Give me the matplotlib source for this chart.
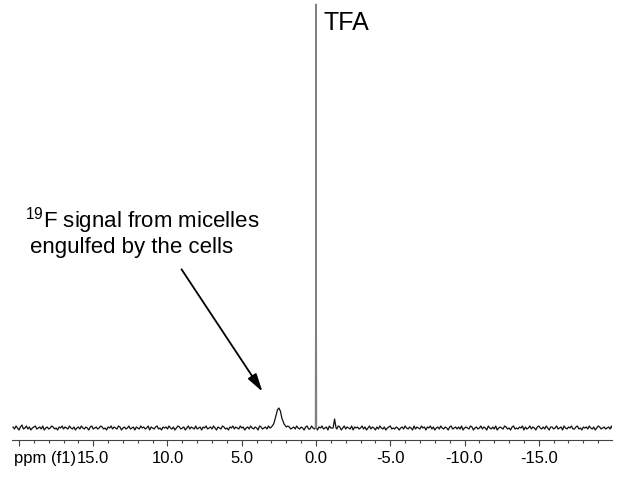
import numpy as np
import matplotlib
matplotlib.use('Agg')
import matplotlib.pyplot as plt
from matplotlib.ticker import MultipleLocator, FixedLocator

plt.rcParams['font.family'] = ['Liberation Sans', 'DejaVu Sans']
plt.rcParams['mathtext.fontset'] = 'custom'
plt.rcParams['mathtext.rm'] = 'Liberation Sans'

# baseline noise, one value every 0.1 ppm starting at 20.4 ppm
noise = [1, -1, 2, 0, -2, 1, 3, -1, 0, 2, -1, 1, -2, 0, 1, 2, -1, 0, 1, -1,
         2, -2, 0, 1, -1, 0, 2, 1, -1, 0, -2, 1, 0, 2, -1, 1, 0, -1, 2, 0,
         -1, 1, -2, 0, 1, -1, 2, 0, -1, 1, 0, -2, 1, 2, -1, 0, 1, -1, 0, 2,
         1, -1, 0, -2, 1, 0, 2, -1, 1, 0, -1, 2, 1, -2, 0, 1, -1, 0, 2, -1,
         0, 1, -2, 1, 0, -1, 2, 0, 1, -1, 0, 2, -2, 1, 0, -1, 1, 2, -1, 0,
         -2, 1, 0, 1, -1, 2, 0, -1, 1, -2, 0, 2, 1, -1, 0, 1, -2, 0, 2, -1,
         1, 0, -1, 2, -1, 0, 1, -2, 1, 0, 2, -1, 0, 1, -1, 2, 0, -2, 1, 0,
         -1, 2, 1, -1, 0, -2, 1, 0, 2, -1, 1, 0, -1, 2, 0, 1, -2, 0, 1, -1,
         2, 0, -1, 1, 0, -2, 2, 1, -1, 0, 1, -1, 2, 0, -2, 1, 0, 1, -1, 2,
         0, -1, 1, -2, 0, 2, 1, -1, 0, 1, -1, 2, 0, -1, 1, 0, -2, 1, 2, -1,
         -1, 2, 0, -1, 1, -2, 1, 0, 2, -1, 0, 1, -2, 2, 0, -1, 1, 0, -1, 2,
         1, -2, 0, 2, -1, 1, 0, -1, 2, -2, 1, 0, 1, -1, 0, 2, -1, 1, -2, 0,
         2, -1, 1, 0, -2, 1, -1, 2, 0, -1, 1, -2, 0, 1, 2, -1, 0, -1, 1, 0,
         -2, 0, 1, -1, 2, 0, -1, 1, 0, -2, 2, -1, 1, 0, -1, 2, 0, 1, -2, 1,
         0, 2, -1, 1, -2, 0, 1, -1, 2, 0, -1, 1, 0, -2, 1, 2, -1, 0, 1, -1,
         1, -1, 2, -2, 0, 1, 0, -1, 2, 1, -2, 0, 1, -1, 0, 2, -1, 1, 0, -2,
         2, 0, -1, 1, -1, 2, -2, 0, 1, 0, -1, 2, 1, -1, 0, -2, 1, 2, -1, 0,
         -1, 1, 0, 2, -2, 1, -1, 0, 2, -1, 1, 0, -2, 1, 2, 0, -1, 1, -1, 2,
         0, -2, 1, 1, -1, 0, 2, -1, 0, 1, -2, 2, 0, -1, 1, 0, 2, -1, -1, 1,
         2, -1, 0, -2, 1, 0, 1, -1, 2, 0, -1, 1, -2, 0, 2, 1, -1, 0, 1, -1,
         0, 1, -1, 2, -2]
noise_start = 20.4
noise_step = 0.1

# peaks (ppm, intensity)
micelle_ppm = [3.0, 2.85, 2.7, 2.6, 2.5, 2.4, 2.3, 2.15, 2.0]
micelle_int = [1, 4, 12, 18, 20, 17, 10, 4, 1]
tfa_ppm = [0.04, 0.02, 0.0, -0.02, -0.04]
tfa_int = [0, 136, 424, 136, 0]
small_ppm = [-1.15, -1.25, -1.35]
small_int = [0, 9, 0]

grid = noise_start - noise_step * np.arange(len(noise))
base = np.array(noise, dtype=float)
keep = ~(((grid > 1.95) & (grid < 3.05)) |
         ((grid > -1.4) & (grid < -1.1)))
ppm = np.concatenate([grid[keep], micelle_ppm, small_ppm])
inten = np.concatenate([base[keep], micelle_int, small_int])
order = np.argsort(-ppm)
ppm, inten = ppm[order], inten[order]

fig = plt.figure(figsize=(6.21, 4.81), dpi=100)
ax = fig.add_axes([12/621, 40/481, 600/621, 441/481])
ax.plot(ppm, inten, color='#111111', lw=0.9)
ax.plot(tfa_ppm, tfa_int, color='#808080', lw=0.9)
ax.set_xlim(20.47, -19.93)
ax.set_ylim(-12, 429)

for s in ['top', 'left', 'right']:
    ax.spines[s].set_visible(False)
ax.spines['bottom'].set_color('#444444')
ax.set_yticks([])

tick_len = 4.5
tick_pad = 3
major = [20, 15, 10, 5, 0, -5, -10, -15, -20]
ax.xaxis.set_major_locator(FixedLocator(major))
ax.set_xticklabels(['' if abs(m) == 20 else f'{m:.1f}' for m in major])
ax.xaxis.set_minor_locator(MultipleLocator(1))
ax.tick_params(axis='x', which='major', length=tick_len, width=0.8, color='#444444',
               labelsize=12, pad=tick_pad)
ax.tick_params(axis='x', which='minor', length=2.5, width=0.8, color='#444444')

ax.annotate('ppm (f1)', xy=(16.15, 0), xycoords=('data', 'axes fraction'),
            xytext=(0, -(tick_len + tick_pad)), textcoords='offset points',
            ha='right', va='top', fontsize=12)

fig.text(323/621, 1 - 30/481, 'TFA', ha='left', va='baseline', fontsize=18)
fig.text(25/621, 1 - 227/481, r'$^{\mathrm{19}}$F signal from micelles',
         ha='left', va='baseline', fontsize=16)
fig.text(30/621, 1 - 253/481, 'engulfed by the cells',
         ha='left', va='baseline', fontsize=16)

ax.annotate('', xy=(264, 481 - 395), xytext=(180, 481 - 268),
            xycoords='figure pixels', textcoords='figure pixels',
            arrowprops=dict(arrowstyle='-|>,head_length=0.9,head_width=0.25',
                            color='black', lw=1.3, mutation_scale=12))

fig.savefig('out.png', dpi=100)
